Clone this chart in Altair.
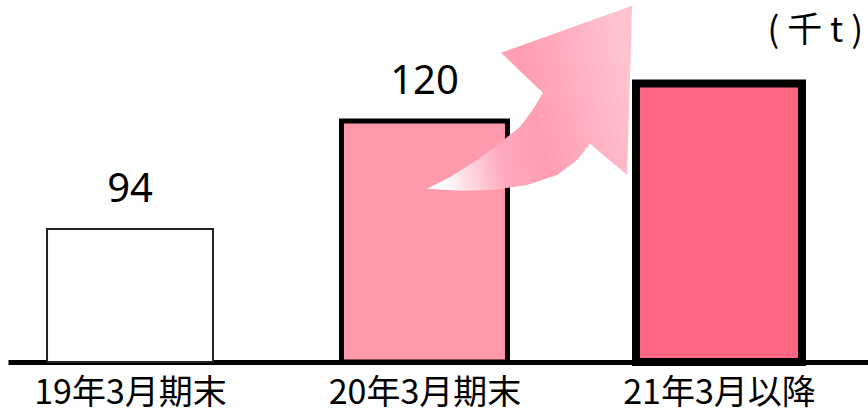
import altair as alt
import pandas as pd

# ---- data ----
categories = ["19年3月期末", "20年3月期末", "21年3月以降"]
values = [94, 120, 129]          # bar heights (truncated axis, base 62)
value_labels = ["94", "120", ""]
unit_label = "( 千 t )"

# arrow outline, in data units (x: category index, y: value)
arrow_x = [1.009, 1.087, 1.178, 1.256, 1.324, 1.368, 1.402, 1.260, 1.705,
           1.688, 1.562, 1.518, 1.450, 1.348, 1.233, 1.121, 1.009]
arrow_y = [103.7, 106.5, 110.6, 114.7, 118.6, 122.7, 126.8, 136.4, 147.7,
           107.0, 114.5, 110.6, 107.0, 104.6, 103.4, 103.2, 103.7]

# ---- styles ----
bar_fill = ["#FFFFFF", "#FF99AC", "#FF6683"]
bar_stroke = ["#222222", "#000000", "#000000"]
bar_stroke_w = [2, 8, 8]
Y_BASE = 62
Y_TOP = 149.1
X_DOM = [-0.4143, 2.506]
HALF = 0.2818

df = pd.DataFrame({
    "cat": categories,
    "idx": list(range(len(categories))),
    "value": values,
    "label": value_labels,
})
arrow_df = pd.DataFrame({"k": list(range(len(arrow_x))), "ax": arrow_x, "ay": arrow_y})

xscale = alt.Scale(domain=X_DOM, nice=False, zero=False)
yscale = alt.Scale(domain=[Y_BASE, Y_TOP], nice=False, zero=False)

label_expr = "[" + ",".join("'" + c + "'" for c in categories) + "][datum.value]"

xaxis = alt.Axis(values=[0, 1, 2], labelExpr=label_expr, title=None,
                 grid=False, ticks=False, tickSize=0,
                 domainColor="#000000", domainWidth=5,
                 labelFont="Noto Sans CJK JP", labelFontSize=34,
                 labelColor="#000000", labelPadding=14,
                 labelLimit=0, labelFlush=False, labelOverlap=False)

base = alt.Chart(df).transform_calculate(
    x0="datum.idx - %f" % HALF, x1="datum.idx + %f" % HALF
)

bars = base.mark_rect().encode(
    x=alt.X("x0:Q", scale=xscale, axis=xaxis),
    x2="x1:Q",
    y=alt.Y("value:Q", scale=yscale, axis=None),
    y2=alt.datum(Y_BASE),
    fill=alt.Fill("cat:N", scale=alt.Scale(domain=categories, range=bar_fill), legend=None),
    stroke=alt.Stroke("cat:N", scale=alt.Scale(domain=categories, range=bar_stroke), legend=None),
    strokeWidth=alt.StrokeWidth("cat:O", scale=alt.Scale(domain=categories, range=bar_stroke_w), legend=None),
)

texts = base.mark_text(font="Noto Sans", fontSize=40, color="#000000",
                       baseline="alphabetic", dy=-27).encode(
    x=alt.X("idx:Q", scale=xscale, axis=xaxis),
    y=alt.Y("value:Q", scale=yscale, axis=None),
    text="label:N",
)

unit = alt.Chart(pd.DataFrame({"t": [unit_label]})).mark_text(
    font="Noto Sans CJK JP", fontSize=35, color="#000000",
    align="right", baseline="top", dx=-5, dy=14,
).encode(
    x=alt.X(datum=X_DOM[1], scale=xscale, axis=xaxis),
    y=alt.Y(datum=Y_TOP, scale=yscale, axis=None),
    text="t:N",
)

gradient = {
    "gradient": "linear", "x1": 0, "y1": 0.6, "x2": 1, "y2": 0.4,
    "stops": [
        {"offset": 0.0, "color": "#FFFFFF"},
        {"offset": 0.3, "color": "#FFAABD"},
        {"offset": 0.5, "color": "#FF9DB1"},
        {"offset": 1.0, "color": "#FFC4D0"},
    ],
}

arrow = alt.Chart(arrow_df).mark_line(fill=gradient, stroke=None, strokeWidth=0,
                                      interpolate="linear").encode(
    x=alt.X("ax:Q", scale=xscale, axis=xaxis),
    y=alt.Y("ay:Q", scale=yscale, axis=None),
    order=alt.Order("k:Q"),
)

chart = alt.layer(bars, arrow, texts, unit).properties(
    width=860, height=362,
    padding={"left": 8, "top": 0, "right": 0, "bottom": 53},
    autosize=alt.AutoSizeParams(type="none"),
).configure(background="#FFFFFF", view=alt.ViewConfig(stroke=None))

chart.save("out.html", embed_options={"renderer": "svg", "actions": False})
